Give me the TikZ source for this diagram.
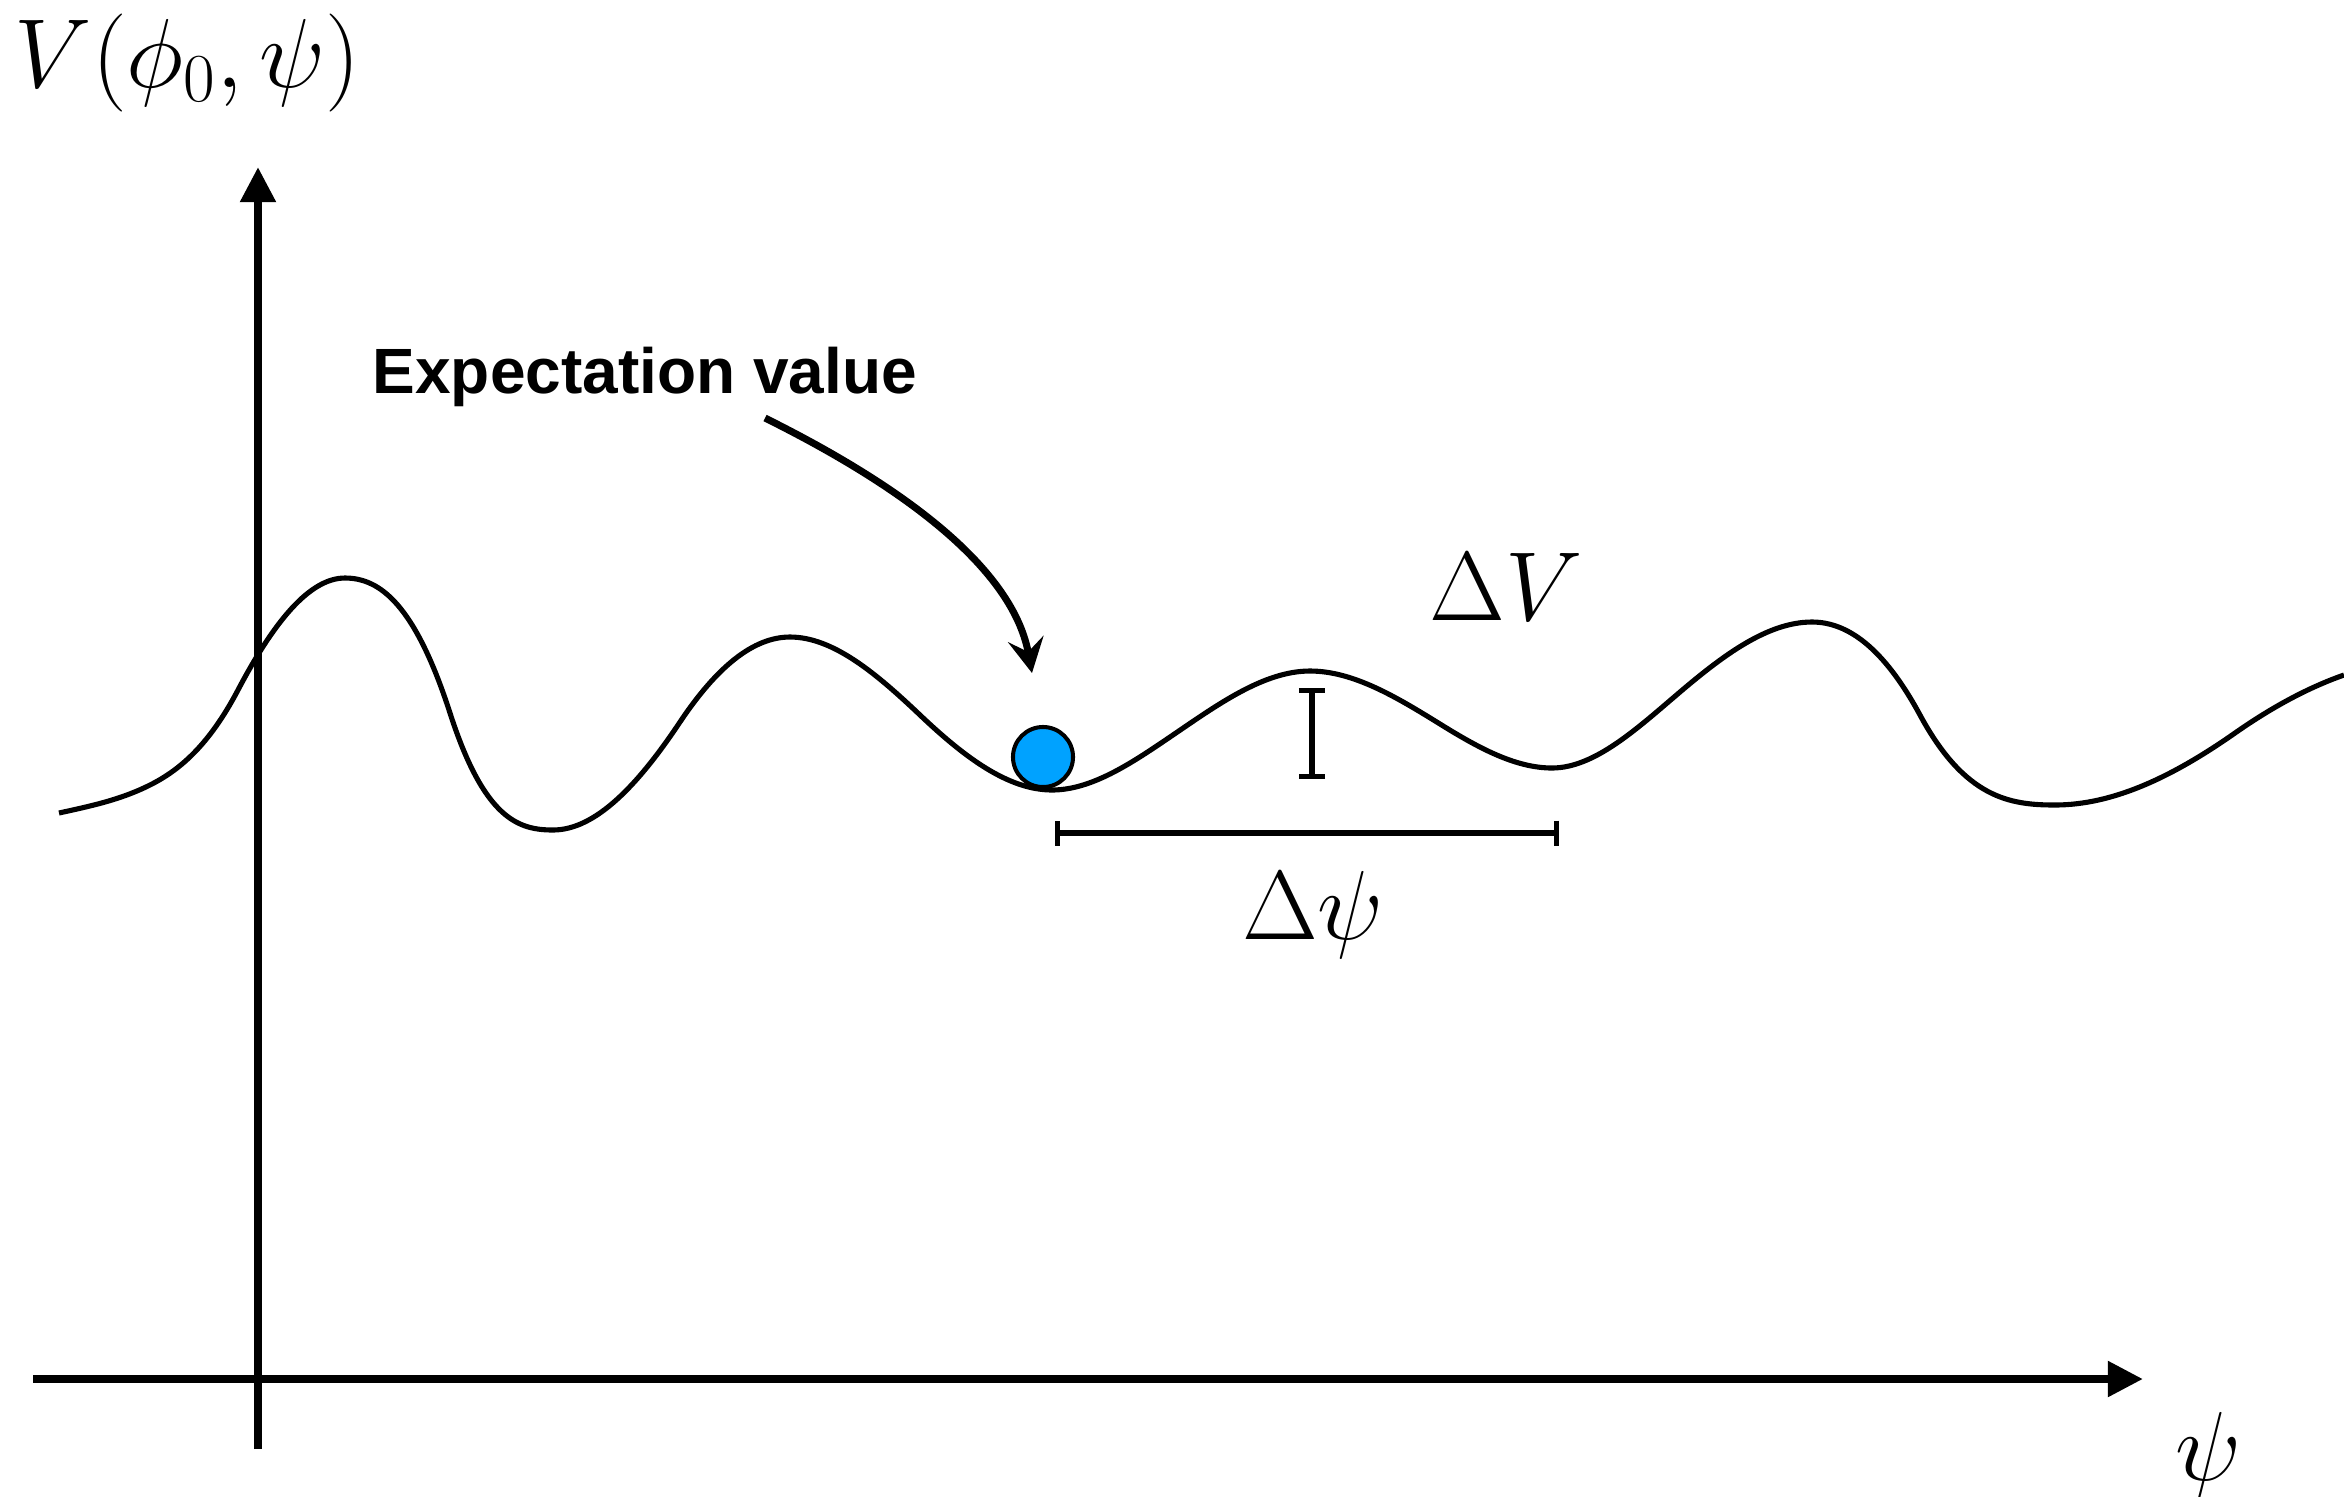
\RequirePackage{fix-cm}
\documentclass[tikz,border=0pt]{standalone}
\usepackage[no-math]{fontspec}
\newfontfamily\evfont{Liberation Sans}
\usetikzlibrary{arrows.meta}
\definecolor{ballblue}{RGB}{0,162,255}
\begin{document}
\begin{tikzpicture}[x=0.01cm,y=-0.01cm,
  axisline/.style={line width=2.3pt,-{Triangle[length=10pt,width=9.7pt]}},
  potline/.style={line width=1.45pt,line join=round},
  barline/.style={line width=1.45pt},
  pointer/.style={line width=2pt,-{Stealth[length=9.8pt,width=10.2pt,inset=3.7pt]}},
  mathlabel/.style={inner sep=0pt,font=\fontsize{27.9pt}{32pt}\selectfont},
  evlabel/.style={inner sep=0pt,font=\evfont\bfseries\fontsize{18.2pt}{21pt}\selectfont},
  ballstyle/.style={circle,draw,line width=1.15pt,fill=ballblue,minimum size=0.6cm,inner sep=0pt}]
\useasboundingbox (0,0) rectangle (2344,1496);

% axes
\coordinate (xstart) at (33,1379);
\coordinate (xend) at (2143,1379);
\coordinate (ystart) at (258,1449);
\coordinate (yend) at (258,167);
\draw[axisline] (xstart) -- (xend);
\draw[axisline] (ystart) -- (yend);

% potential
\draw[potline] (59,813) .. controls (89.3,806.3) and (119.7,800.2) .. (150,785)
 .. controls (179.3,770.3) and (208.7,745.7) .. (238,690)
 .. controls (273.7,622.2) and (309.3,578) .. (345,578)
 .. controls (380,578) and (415,604.5) .. (450,713)
 .. controls (484.3,819.3) and (518.7,830) .. (553,830)
 .. controls (595.3,830) and (637.7,785.5) .. (680,722)
 .. controls (716.7,667) and (753.3,637) .. (790,637)
 .. controls (833.3,637) and (876.7,673.9) .. (920,715)
 .. controls (964,756.8) and (1008,790) .. (1052,790)
 .. controls (1091.3,790) and (1130.7,763.7) .. (1170,737)
 .. controls (1216.7,705.3) and (1263.3,671) .. (1310,671)
 .. controls (1353.3,671) and (1396.7,697.2) .. (1440,724)
 .. controls (1477.3,747.1) and (1514.7,768) .. (1552,768)
 .. controls (1594.7,768) and (1637.3,728.3) .. (1680,692)
 .. controls (1724,654.6) and (1768,622) .. (1812,622)
 .. controls (1848,622) and (1884,648.4) .. (1920,715)
 .. controls (1965,798.25) and (2010,805) .. (2055,805)
 .. controls (2115,805) and (2175,775) .. (2235,733)
 .. controls (2271.3,707.6) and (2307.7,687.7) .. (2344,675);

% ball
\node[ballstyle] (ball) at (1043,757) {};

% labels
\node[mathlabel,anchor=base west] (vlabel) at (14,87) {$V(\phi_0,\psi)$};
\node[mathlabel,anchor=base] (dV) at (1506,620) {$\Delta V$};
\node[mathlabel,anchor=base] (dpsi) at (1313,939) {$\Delta\psi$};
\node[mathlabel,anchor=base] (psilabel) at (2208,1480) {$\psi$};
\node[evlabel,anchor=base west] (ev) at (372,393) {Expectation value};

% pointer
\coordinate (evstart) at (765,418);
\coordinate (evtip) at (1032,673);
\draw[pointer] (evstart) .. controls (930,500) and (1015,580) .. (evtip);

% bars
\coordinate (psiL) at (1055,833);
\coordinate (psiR) at (1559,833);
\draw[barline,{Bar[width=7.1pt]}-{Bar[width=7.1pt]}] (psiL) -- (psiR);
\coordinate (vTop) at (1312,688);
\coordinate (vBot) at (1312,779);
\draw[barline,{Bar[width=7.4pt]}-{Bar[width=7.4pt]}] (vTop) -- (vBot);
\end{tikzpicture}
\end{document}
